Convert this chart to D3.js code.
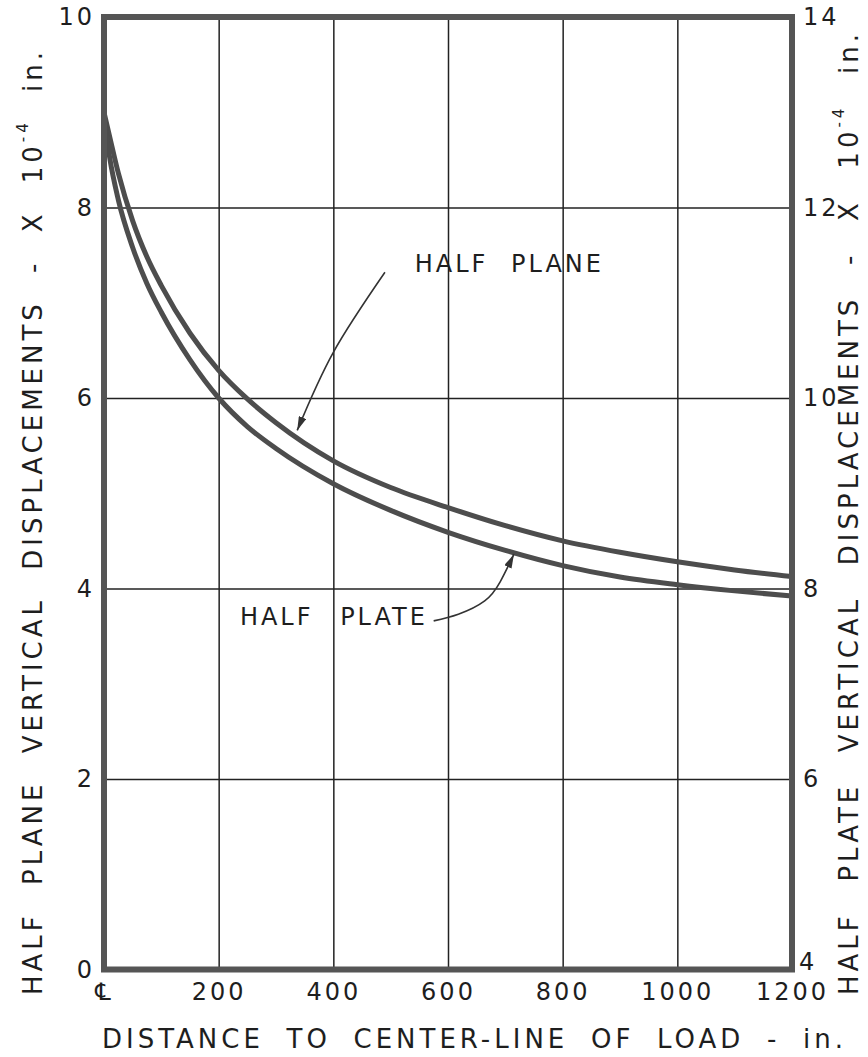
<!DOCTYPE html>
<html>
<head>
<meta charset="utf-8">
<script src="https://cdn.jsdelivr.net/npm/d3@7"></script>
<style>
  body { margin: 0; background: #fff; }
  svg { display: block; }
  text { font-family: "DejaVu Sans", sans-serif; fill: #1e1e1e; }
</style>
</head>
<body>
<div id="chart"></div>
<script>
// distance to center-line of load (in.)
const distances = [0, 10, 25, 50, 75, 100, 150, 200, 250, 300, 400, 500, 600, 700, 800, 900, 1000, 1100, 1200];
// half plane, left axis (x 10^-4 in.)
const halfPlane = [9.00, 8.74, 8.36, 7.86, 7.48, 7.18, 6.68, 6.29, 5.99, 5.74, 5.34, 5.06, 4.85, 4.66, 4.50, 4.38, 4.28, 4.195, 4.125];
// half plate, right axis (x 10^-4 in.)
const halfPlate = [12.95, 12.52, 12.08, 11.58, 11.20, 10.90, 10.40, 10.00, 9.70, 9.47, 9.10, 8.82, 8.59, 8.40, 8.24, 8.12, 8.04, 7.975, 7.92];

const xTicks = [0, 200, 400, 600, 800, 1000, 1200];
const xTickLabels = ["\u2104", "200", "400", "600", "800", "1000", "1200"];
const leftTicks = [0, 2, 4, 6, 8, 10];
const rightTicks = [4, 6, 8, 10, 12, 14];

// annotation arrows, in (distance, half plane value)
const planeArrow = [[490, 7.32], [400, 6.48], [337, 5.66]];
const plateArrow = [[575, 3.66], [618, 3.73], [664, 3.87], [691, 4.07], [715, 4.36]];

const width = 868, height = 1057;
const margin = { top: 17, right: 76, bottom: 87.5, left: 104 };

const x = d3.scaleLinear().domain([0, 1200]).range([margin.left, width - margin.right]);
const yL = d3.scaleLinear().domain([0, 10]).range([height - margin.bottom, margin.top]);
const yR = d3.scaleLinear().domain([4, 14]).range([height - margin.bottom, margin.top]);

const svg = d3.select("#chart").append("svg")
    .attr("width", width)
    .attr("height", height);

const plotH = yL(0) - yL(10);
const plotW = x(1200) - x(0);

// grid lines
svg.append("g")
    .attr("transform", "translate(0," + yL(0) + ")")
    .call(d3.axisBottom(x).tickValues(xTicks.slice(1, -1)).tickSize(-plotH).tickFormat(""))
    .call(g => g.select(".domain").remove())
    .selectAll("line").attr("stroke", "#222").attr("stroke-width", 1.5);

svg.append("g")
    .attr("transform", "translate(" + x(0) + ",0)")
    .call(d3.axisLeft(yL).tickValues(leftTicks.slice(1, -1)).tickSize(-plotW).tickFormat(""))
    .call(g => g.select(".domain").remove())
    .selectAll("line").attr("stroke", "#222").attr("stroke-width", 1.5);

// curves
const line = d3.line().curve(d3.curveMonotoneX);

svg.append("path")
    .attr("d", line(distances.map((d, i) => [x(d), yL(halfPlane[i])])))
    .attr("fill", "none")
    .attr("stroke", "#4d4d4d")
    .attr("stroke-width", 5);

svg.append("path")
    .attr("d", line(distances.map((d, i) => [x(d), yR(halfPlate[i])])))
    .attr("fill", "none")
    .attr("stroke", "#4d4d4d")
    .attr("stroke-width", 5);

// frame
svg.append("rect")
    .attr("x", x(0))
    .attr("y", yL(10))
    .attr("width", plotW)
    .attr("height", plotH)
    .attr("fill", "none")
    .attr("stroke", "#555")
    .attr("stroke-width", 6);

// axis labels
const xAxis = svg.append("g")
    .attr("transform", "translate(0," + yL(0) + ")")
    .call(d3.axisBottom(x).tickValues(xTicks).tickSize(0).tickPadding(13)
        .tickFormat((d, i) => xTickLabels[i]));
xAxis.select(".domain").remove();

const leftAxis = svg.append("g")
    .attr("transform", "translate(" + x(0) + ",0)")
    .call(d3.axisLeft(yL).tickValues(leftTicks).tickSize(0).tickPadding(9));
leftAxis.select(".domain").remove();

const rightAxis = svg.append("g")
    .attr("transform", "translate(" + x(1200) + ",0)")
    .call(d3.axisRight(yR).tickValues(rightTicks).tickSize(0).tickPadding(11));
rightAxis.select(".domain").remove();
rightAxis.selectAll(".tick").filter(d => d === 4)
    .select("text").attr("x", 7).attr("dy", "0.0em");

svg.selectAll(".tick text")
    .attr("font-family", "DejaVu Sans, sans-serif")
    .attr("font-size", 24)
    .attr("fill", "#1e1e1e")
    .style("letter-spacing", "3px");

// titles, word spacing stretched to the drawn length
function fitText(t, target) {
    const spaces = (t.text().match(/ /g) || []).length;
    const w = t.node().getComputedTextLength();
    t.style("word-spacing", ((target - w) / spaces) + "px");
}

const xTitle = svg.append("text")
    .attr("x", 102)
    .attr("y", 1048)
    .attr("font-size", 26)
    .style("letter-spacing", "4px")
    .text("DISTANCE TO CENTER-LINE OF LOAD - in.");
fitText(xTitle, 745);

function yTitle(name, px, target) {
    const t = svg.append("text")
        .attr("transform", "translate(" + px + ",995) rotate(-90)")
        .attr("font-size", 26)
        .style("letter-spacing", "4px");
    t.append("tspan").text(name + " VERTICAL DISPLACEMENTS - X 10");
    t.append("tspan").attr("font-size", 15).attr("dy", -14).text("-4");
    t.append("tspan").attr("dy", 14).text(" in.");
    fitText(t, target);
    return t;
}
yTitle("HALF PLANE", 42, 947);
yTitle("HALF PLATE", 858, 965);

// curve labels and arrows
svg.append("text")
    .attr("x", x(542))
    .attr("y", yL(7.41))
    .attr("dy", "0.36em")
    .attr("font-size", 24)
    .style("letter-spacing", "3px")
    .style("word-spacing", "12px")
    .text("HALF PLANE");

svg.append("text")
    .attr("x", x(237))
    .attr("y", yL(3.71))
    .attr("dy", "0.36em")
    .attr("font-size", 24)
    .style("letter-spacing", "3px")
    .style("word-spacing", "16px")
    .text("HALF PLATE");

svg.append("defs").append("marker")
    .attr("id", "head")
    .attr("viewBox", "0 0 14 8")
    .attr("refX", 14)
    .attr("refY", 4)
    .attr("markerWidth", 14)
    .attr("markerHeight", 8)
    .attr("markerUnits", "userSpaceOnUse")
    .attr("orient", "auto")
    .append("path")
    .attr("d", "M0,0 L14,4 L0,8 Z")
    .attr("fill", "#333");

const arrowLine = d3.line().x(d => x(d[0])).y(d => yL(d[1])).curve(d3.curveNatural);

[planeArrow, plateArrow].forEach(function(pts) {
    svg.append("path")
        .attr("d", arrowLine(pts))
        .attr("fill", "none")
        .attr("stroke", "#333")
        .attr("stroke-width", 1.6)
        .attr("marker-end", "url(#head)");
});
</script>
</body>
</html>
